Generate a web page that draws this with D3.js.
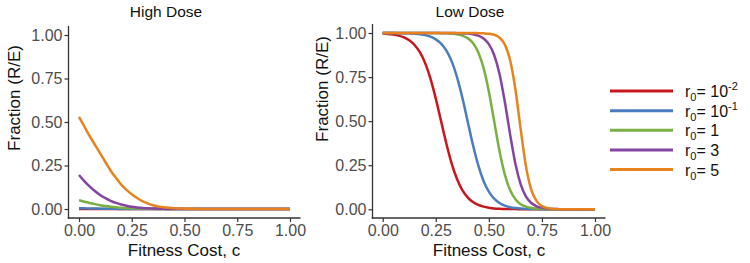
<!DOCTYPE html>
<html>
<head>
<meta charset="utf-8">
<script src="https://cdn.jsdelivr.net/npm/d3@7/dist/d3.min.js"></script>
<style>
  html, body { margin: 0; padding: 0; background: #ffffff; }
  svg { display: block; font-family: "Liberation Sans", Arial, Helvetica, sans-serif; }
</style>
</head>
<body>
<svg id="chart" width="750" height="263"></svg>
<script>
// ---------------- DATA ----------------
// fitness cost grid (0 .. 1 step 0.025)
const costs = [0,0.025,0.05,0.075,0.1,0.125,0.15,0.175,0.2,0.225,0.25,0.275,0.3,0.325,0.35,0.375,0.4,0.425,0.45,0.475,0.5,0.525,0.55,0.575,0.6,0.625,0.65,0.675,0.7,0.725,0.75,0.775,0.8,0.825,0.85,0.875,0.9,0.925,0.95,0.975,1];

const seriesNames = ["r0= 10-2", "r0= 10-1", "r0= 1", "r0= 3", "r0= 5"];
const seriesColors = ["#C8161D", "#4A7DBE", "#78B044", "#8445A2", "#E8821F"];

// High dose panel
const highR001 = [0,0,0,0,0,0,0,0,0,0,0,0,0,0,0,0,0,0,0,0,0,0,0,0,0,0,0,0,0,0,0,0,0,0,0,0,0,0,0,0,0];
const highR01  = [0.005,0.004,0.003,0.003,0.002,0.002,0.001,0.001,0,0,0,0,0,0,0,0,0,0,0,0,0,0,0,0,0,0,0,0,0,0,0,0,0,0,0,0,0,0,0,0,0];
const highR1   = [0.05,0.042,0.035,0.028,0.022,0.017,0.013,0.01,0.007,0.005,0.004,0.003,0.002,0.001,0.001,0,0,0,0,0,0,0,0,0,0,0,0,0,0,0,0,0,0,0,0,0,0,0,0,0,0];
const highR3   = [0.195,0.16,0.13,0.103,0.08,0.062,0.047,0.035,0.026,0.019,0.013,0.009,0.006,0.004,0.003,0.002,0.001,0,0,0,0,0,0,0,0,0,0,0,0,0,0,0,0,0,0,0,0,0,0,0,0];
const highR5   = [0.53,0.475,0.42,0.37,0.32,0.27,0.22,0.18,0.14,0.11,0.085,0.063,0.045,0.032,0.022,0.015,0.01,0.007,0.005,0.003,0.002,0.001,0.001,0,0,0,0,0,0,0,0,0,0,0,0,0,0,0,0,0,0];

// Low dose panel
const lowR001 = [0.997,0.995,0.991,0.985,0.975,0.959,0.932,0.891,0.829,0.741,0.628,0.5,0.372,0.259,0.172,0.109,0.068,0.041,0.025,0.015,0.009,0.005,0.003,0.002,0.001,0.001,0,0,0,0,0,0,0,0,0,0,0,0,0,0,0];
const lowR01  = [1,1,1,0.999,0.999,0.998,0.996,0.993,0.988,0.979,0.964,0.94,0.9,0.839,0.75,0.634,0.5,0.366,0.25,0.161,0.1,0.06,0.036,0.021,0.012,0.007,0.004,0.002,0.001,0.001,0,0,0,0,0,0,0,0,0,0,0];
const lowR1   = [1,1,1,1,1,1,1,1,1,1,1,0.999,0.998,0.996,0.993,0.985,0.971,0.943,0.891,0.802,0.668,0.5,0.332,0.198,0.109,0.057,0.029,0.015,0.007,0.004,0.002,0.001,0,0,0,0,0,0,0,0,0];
const lowR3   = [1,1,1,1,1,1,1,1,1,1,1,1,1,1,0.999,0.998,0.997,0.993,0.985,0.969,0.937,0.875,0.769,0.611,0.426,0.259,0.142,0.072,0.036,0.017,0.008,0.004,0.002,0.001,0,0,0,0,0,0,0];
const lowR5   = [1,1,1,1,1,1,1,1,1,1,1,1,1,1,1,1,1,1,0.999,0.998,0.996,0.99,0.974,0.935,0.847,0.681,0.453,0.242,0.11,0.046,0.018,0.007,0.003,0.001,0,0,0,0,0,0,0];

const tickValues = [0, 0.25, 0.5, 0.75, 1];
const tickLabels = ["0.00", "0.25", "0.50", "0.75", "1.00"];

const panelTitles = ["High Dose", "Low Dose"];
const xTitle = "Fitness Cost, c";
const yTitle = "Fraction (R/E)";

// ---------------- LAYOUT ----------------
const panels = [
  { title: panelTitles[0], series: [highR001, highR01, highR1, highR3, highR5],
    axisX: 68.5, x0: 79, x1: 290, y0: 209, y1: 35, axisY: 218, axisTop: 26, axisRight: 300.5,
    titleX: 166, xTitleX: 184, yTitleX: 20, yTitleY: 98 },
  { title: panelTitles[1], series: [lowR001, lowR01, lowR1, lowR3, lowR5],
    axisX: 372.5, x0: 382.7, x1: 595, y0: 209.3, y1: 33, axisY: 218, axisTop: 24, axisRight: 605.5,
    titleX: 470, xTitleX: 489, yTitleX: 328, yTitleY: 89 }
];

const svg = d3.select("#chart");
const tickColor = "#333333";
const labelColor = "#4d4d4d";

panels.forEach(p => {
  const x = d3.scaleLinear().domain([0, 1]).range([p.x0, p.x1]);
  const y = d3.scaleLinear().domain([0, 1]).range([p.y0, p.y1]);
  const g = svg.append("g");

  // axes via d3 axis generators
  const xAxis = d3.axisBottom(x).tickValues(tickValues).tickFormat((d, i) => tickLabels[i]).tickSize(4).tickPadding(3);
  const yAxis = d3.axisLeft(y).tickValues(tickValues).tickFormat((d, i) => tickLabels[i]).tickSize(4).tickPadding(2);

  const gx = g.append("g").attr("transform", `translate(0,${p.axisY})`).call(xAxis);
  gx.select(".domain").remove();
  gx.append("line").attr("x1", p.axisX - 0.7).attr("x2", p.axisRight).attr("y1", 0).attr("y2", 0)
    .attr("stroke", tickColor).attr("stroke-width", 1.3);
  gx.selectAll(".tick line").attr("stroke", tickColor).attr("stroke-width", 1.2);
  gx.selectAll(".tick text").attr("fill", labelColor).attr("font-size", 16)
    .attr("font-family", "Liberation Sans, Arial, sans-serif");

  const gy = g.append("g").attr("transform", `translate(${p.axisX},0)`).call(yAxis);
  gy.select(".domain").remove();
  gy.append("line").attr("x1", 0).attr("x2", 0).attr("y1", p.axisTop).attr("y2", p.axisY + 0.7)
    .attr("stroke", tickColor).attr("stroke-width", 1.3);
  gy.selectAll(".tick line").attr("stroke", tickColor).attr("stroke-width", 1.2);
  gy.selectAll(".tick text").attr("fill", labelColor).attr("font-size", 16)
    .attr("font-family", "Liberation Sans, Arial, sans-serif");

  // lines
  const line = d3.line().x((d, i) => x(costs[i])).y(d => y(d)).curve(d3.curveMonotoneX);
  p.series.forEach((s, si) => {
    g.append("path").datum(s).attr("d", line)
      .attr("fill", "none").attr("stroke", seriesColors[si]).attr("stroke-width", 2.5)
      .attr("stroke-linejoin", "round").attr("stroke-linecap", "butt");
  });

  // titles
  g.append("text").attr("x", p.titleX).attr("y", 17).attr("text-anchor", "middle")
    .attr("font-size", 15.5).attr("fill", "#111").text(p.title);
  g.append("text").attr("x", p.xTitleX).attr("y", 256).attr("text-anchor", "middle")
    .attr("font-size", 17).attr("fill", "#111").text(xTitle);
  g.append("text").attr("transform", `translate(${p.yTitleX},${p.yTitleY}) rotate(-90)`)
    .attr("text-anchor", "middle").attr("font-size", 17).attr("fill", "#111").text(yTitle);
});

// ---------------- LEGEND ----------------
const legendY = d3.scalePoint().domain(seriesNames).range([91, 169.5]);
const legend = svg.append("g");
seriesNames.forEach((name, i) => {
  const yy = legendY(name);
  legend.append("line").attr("x1", 610).attr("x2", 673).attr("y1", yy).attr("y2", yy)
    .attr("stroke", seriesColors[i]).attr("stroke-width", 3);
  const m = name.match(/^r0= (\d+)(?:(-\d+))?$/);
  const t = legend.append("text").attr("x", 685).attr("y", yy + 6).attr("font-size", 16).attr("fill", "#111");
  t.append("tspan").text("r");
  t.append("tspan").attr("font-size", 11).attr("dy", 4).text("0");
  t.append("tspan").attr("dy", -4).text("= " + m[1]);
  if (m[2]) {
    t.append("tspan").attr("font-size", 11).attr("dy", -7).text(m[2]);
  }
});
</script>
</body>
</html>
